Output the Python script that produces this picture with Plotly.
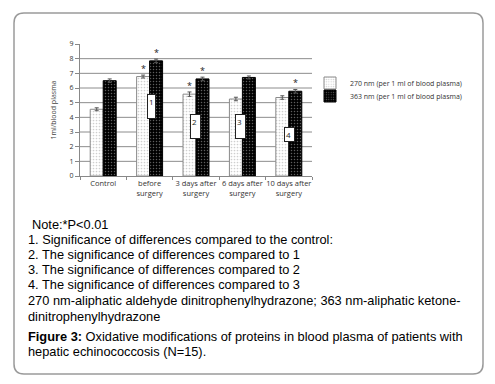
import plotly.graph_objects as go

categories = ["Control", "before<br>surgery", "3 days after<br>surgery", "6 days after<br>surgery", "10 days after<br>surgery"]
series_names = ["270 nm (per 1 ml of blood plasma)", "363 nm (per 1 ml of blood plasma)"]
vals_270 = [4.55, 6.78, 5.58, 5.25, 5.35]
vals_363 = [6.50, 7.85, 6.62, 6.72, 5.78]
err_270 = [0.10, 0.10, 0.15, 0.12, 0.12]
err_363 = [0.12, 0.12, 0.12, 0.10, 0.12]
sig_270 = [False, True, True, False, False]
sig_363 = [False, True, True, False, True]
box_labels = ["1", "2", "3", "4"]
box_cats = [1, 2, 3, 4]
box_y = [4.75, 3.4, 3.4, 2.8]
yticks = list(range(0, 10))
note_lines = [
    "Note:*P<0.01",
    "1. Significance of differences compared to the control:",
    "2. The significance of differences compared to 1",
    "3. The significance of differences compared to 2",
    "4. The significance of differences compared to 3",
    "270 nm-aliphatic aldehyde dinitrophenylhydrazone; 363 nm-aliphatic ketone-",
    "dinitrophenylhydrazone",
]
caption_lines = [
    "<b>Figure 3:</b> Oxidative modifications of proteins in blood plasma of patients with",
    "hepatic echinococcosis (N=15).",
]

# the page body has an 8px default margin; work in window pixels and offset
OFF = 8
W, H = 495 - 2 * OFF, 384 - 2 * OFF
L, R, T, B = 80 - OFF, 312 - OFF, 44 - OFF, 176 - OFF


def px(xp):
    return (xp - OFF - L) / (R - L)


def py(yp):
    return (B - (yp - OFF)) / (B - T)


fig = go.Figure()
fig.add_trace(go.Bar(
    x=categories, y=vals_270, name=series_names[0], legend="legend",
    marker=dict(color="white", line=dict(color="#8a8a8a", width=1),
                pattern=dict(shape=".", fgcolor="#a0a0a0", size=3, solidity=0.25)),
    error_y=dict(type="data", array=err_270, color="#555", thickness=1, width=2),
))
fig.add_trace(go.Bar(
    x=categories, y=vals_363, name=series_names[1], legend="legend2",
    marker=dict(color="black", line=dict(color="black", width=1),
                pattern=dict(shape=".", fgcolor="#bbbbbb", bgcolor="black", size=3, solidity=0.2)),
    error_y=dict(type="data", array=err_363, color="#555", thickness=1, width=2),
))

anns = []
for i, c in enumerate(categories):
    if sig_270[i]:
        anns.append(dict(x=c, y=vals_270[i] + err_270[i] + 0.45, text="*", showarrow=False,
                         xshift=-6.5, font=dict(size=9, color="#222")))
    if sig_363[i]:
        anns.append(dict(x=c, y=vals_363[i] + err_363[i] + 0.45, text="*", showarrow=False,
                         xshift=6.5, font=dict(size=9, color="#222")))

box_shift = [2, -1, -2, 1]
box_text = ["1<br> ", "2 <br> ", "3 <br> ", "4 "]
for k, lab in enumerate(box_labels):
    anns.append(dict(x=categories[box_cats[k]], y=box_y[k], text=box_text[k], showarrow=False,
                     xshift=box_shift[k], bgcolor="white", bordercolor="#222", borderwidth=1,
                     borderpad=1, font=dict(size=8, color="#222", family="Open Sans")))

note_y = [224, 239, 254, 269, 284, 300, 316]
for t, yy in zip(note_lines, note_y):
    anns.append(dict(xref="paper", yref="paper", x=px(30 if t.startswith("Note") else 26), y=py(yy),
                     xanchor="left", yanchor="middle", text=t, showarrow=False,
                     font=dict(size=12.8, color="black", family="Liberation Sans")))
cap_y = [336, 352]
for t, yy in zip(caption_lines, cap_y):
    anns.append(dict(xref="paper", yref="paper", x=px(26), y=py(yy),
                     xanchor="left", yanchor="middle", text=t, showarrow=False,
                     font=dict(size=12.8, color="black", family="Liberation Sans")))

shapes = []
for g in range(1, 9):
    shapes.append(dict(type="line", xref="paper", yref="y", x0=0, x1=1, y0=g, y1=g,
                       line=dict(color="#8c8c8c", width=1), layer="below"))

# rounded outer frame (window pixel coordinates)
x0, x1, y0, y1, r = 14, 483, 13, 374, 10
pts = [
    ("M", x0 + r, y0), ("L", x1 - r, y0), ("Q", x1, y0, x1, y0 + r), ("L", x1, y1 - r),
    ("Q", x1, y1, x1 - r, y1), ("L", x0 + r, y1), ("Q", x0, y1, x0, y1 - r), ("L", x0, y0 + r),
    ("Q", x0, y0, x0 + r, y0),
]
path = ""
for p in pts:
    cmd = p[0]
    coords = p[1:]
    s = []
    for j in range(0, len(coords), 2):
        s.append(f"{px(coords[j]):.5f},{py(coords[j+1]):.5f}")
    path += cmd + " ".join(s) + " "
path += "Z"
shapes.append(dict(type="path", xref="paper", yref="paper", path=path,
                   line=dict(color="#9a9a9a", width=1.5)))

leg_common = dict(xanchor="left", yanchor="middle", font=dict(size=7, color="#333"),
                  bgcolor="rgba(0,0,0,0)", itemwidth=30, borderwidth=0)

fig.update_layout(
    width=W, height=H,
    margin=dict(l=L, r=W - R, t=T, b=H - B, autoexpand=False),
    paper_bgcolor="white", plot_bgcolor="white",
    barmode="group", bargap=0.44, bargroupgap=0,
    font=dict(family="Open Sans", size=7, color="#333"),
    showlegend=True,
    legend=dict(x=px(310), y=py(83), **leg_common),
    legend2=dict(x=px(310), y=py(96), **leg_common),
    annotations=anns, shapes=shapes,
    xaxis=dict(showline=True, linecolor="#888", linewidth=1, ticks="outside",
               tickson="boundaries", ticklen=3, tickcolor="#888", tickangle=0, automargin=False,
               tickfont=dict(size=7.5, color="#333"), showgrid=False),
    yaxis=dict(range=[0, 9], tickvals=yticks, showline=True, linecolor="#888", linewidth=1,
               ticks="outside", ticklen=4, tickcolor="#888", showgrid=False, zeroline=False,
               automargin=False, tickfont=dict(size=7, color="#333"),
               title=dict(text="1ml/blood plasma", font=dict(size=7, color="#444"), standoff=12)),
)

fig.write_html("out.html")
